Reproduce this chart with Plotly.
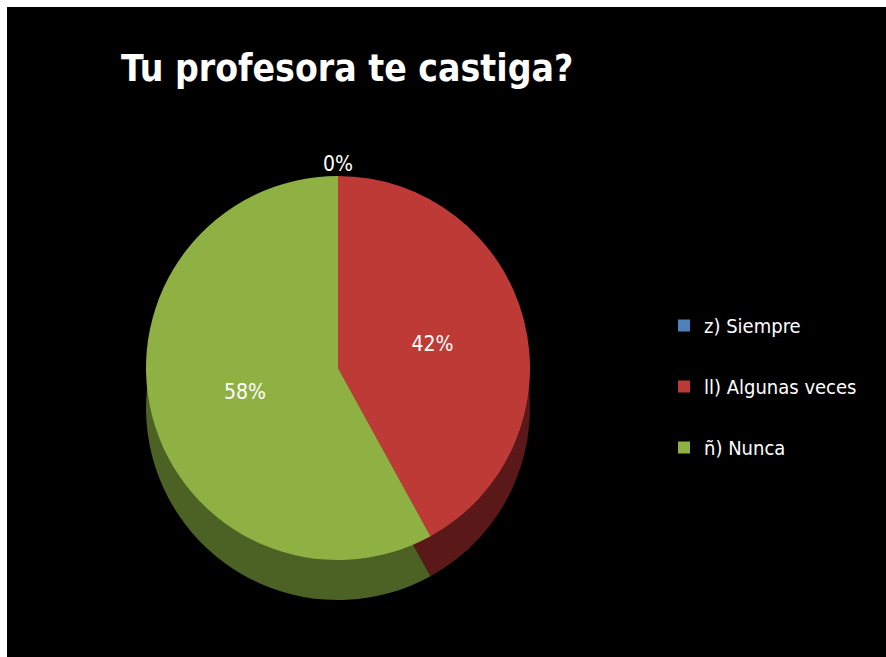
import plotly.graph_objects as go

labels = ["z) Siempre", "ll) Algunas veces", "ñ) Nunca"]
values = [0, 42, 58]
colors = ["#4F81BD", "#BE3A36", "#8FB043"]
depth_colors = ["#2E4E74", "#5A1818", "#4C6224"]
title_text = "Tu profesora te castiga?"

W, H = 886, 657
FONT = "Liberation Sans Narrow, DejaVu Sans Condensed, Roboto, sans-serif"

cx, cy, r = 338, 368, 192
depth = 40

def dom(cx_, cy_, r_):
    return dict(x=[(cx_ - r_) / W, (cx_ + r_) / W],
                y=[1 - (cy_ + r_) / H, 1 - (cy_ - r_) / H])

fig = go.Figure()
# depth (side) layer
fig.add_trace(go.Pie(
    labels=labels, values=values, sort=False, direction="clockwise", rotation=0,
    marker=dict(colors=depth_colors, line=dict(width=0)),
    textinfo="none", hoverinfo="skip", showlegend=False,
    domain=dom(cx, cy + depth, r),
))
# top face
fig.add_trace(go.Pie(
    labels=labels, values=values, sort=False, direction="clockwise", rotation=0,
    marker=dict(colors=colors, line=dict(width=0)),
    texttemplate="%{percent:.0%}", textposition="inside",
    insidetextorientation="horizontal",
    textfont=dict(color="white", size=21, family=FONT),
    showlegend=False,
    domain=dom(cx, cy, r),
))

# legend entries (one group each so spacing can match)
for lab, col in zip(labels, colors):
    fig.add_trace(go.Scatter(
        x=[None], y=[None], mode="markers", name=lab, legendgroup=lab,
        marker=dict(symbol="square", size=12, color=col),
        showlegend=True,
    ))

total = sum(values)
fig.add_annotation(x=cx / W, y=1 - 150 / H, xref="paper", yref="paper",
                   text=f"{round(100 * values[0] / total)}%", showarrow=False,
                   font=dict(color="white", size=21, family=FONT))

fig.add_annotation(x=347 / W, y=1 - 68 / H, xref="paper", yref="paper",
                   yanchor="middle",
                   text=f"<b>{title_text}</b>", showarrow=False,
                   font=dict(color="white", size=37, family=FONT))

fig.update_layout(
    width=W, height=H,
    margin=dict(l=0, r=0, t=0, b=0),
    paper_bgcolor="black", plot_bgcolor="black",
    xaxis=dict(visible=False), yaxis=dict(visible=False),
    legend=dict(x=664 / W, y=1 - 306 / H, xanchor="left", yanchor="top",
                font=dict(color="white", size=20, family=FONT),
                tracegroupgap=32, itemsizing="constant",
                bgcolor="rgba(0,0,0,0)"),
    shapes=[
        dict(type="rect", xref="paper", yref="paper", x0=0, x1=7 / W, y0=0, y1=1,
             fillcolor="white", line=dict(width=0), layer="above"),
        dict(type="rect", xref="paper", yref="paper", x0=0, x1=1, y0=1 - 7 / H, y1=1,
             fillcolor="white", line=dict(width=0), layer="above"),
    ],
)

fig.write_html("out.html", config={"displayModeBar": False},
               post_script="document.body.style.margin='0';")
